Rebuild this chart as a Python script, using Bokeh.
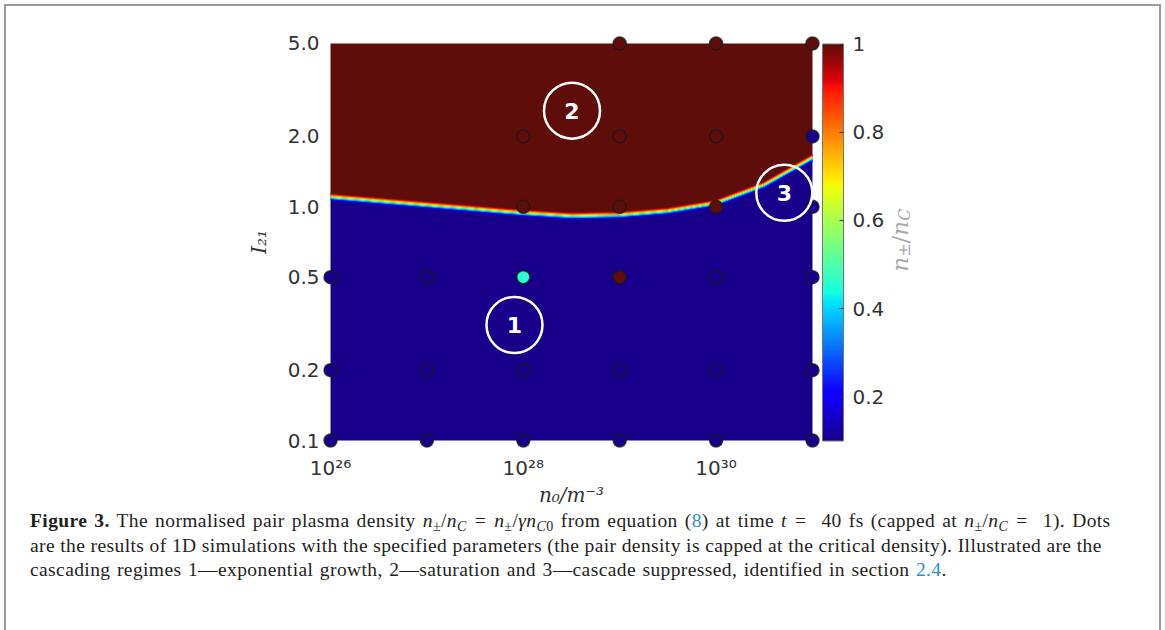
import numpy as np
from bokeh.plotting import figure
from bokeh.models import (LinearColorMapper, ColorBar, FixedTicker, Range1d, Div,
                          ColumnDataSource)
from bokeh.layouts import column, row
from bokeh.core.properties import value
from bokeh.embed import file_html
from bokeh.resources import INLINE

# ---------------- data ----------------
x_ticks = [1e26, 1e28, 1e30]
x_tick_labels = ["10²⁶", "10²⁸", "10³⁰"]
y_ticks = [0.1, 0.2, 0.5, 1.0, 2.0, 5.0]
y_tick_labels = ["0.1", "0.2", "0.5", "1.0", "2.0", "5.0"]
cbar_ticks = [0.2, 0.4, 0.6, 0.8, 1.0]
cbar_tick_labels = ["0.2", "0.4", "0.6", "0.8", "1"]

n0_min, n0_max = 1e26, 1e31
I_min, I_max = 0.1, 5.0
ratio_min, ratio_max = 0.1, 1.0

# boundary of the capped (saturated) region
bnd_n0 = [1e26, 3.16e26, 1e27, 3.16e27, 1e28, 3.16e28, 1e29, 3.16e29, 1e30, 3.16e30, 1e31]
bnd_I = [1.104, 1.061, 1.020, 0.980, 0.942, 0.915, 0.924, 0.961, 1.040, 1.243, 1.623]

# 1D simulation results (capped n±/nC)
sim_n0 = [1e26, 1e27, 1e28, 1e29, 1e30, 1e31,
          1e26, 1e27, 1e28, 1e29, 1e30, 1e31,
          1e26, 1e27, 1e28, 1e29, 1e30, 1e31,
          1e28, 1e29, 1e30, 1e31,
          1e28, 1e29, 1e30, 1e31,
          1e29, 1e30, 1e31]
sim_I = [0.1, 0.1, 0.1, 0.1, 0.1, 0.1,
         0.2, 0.2, 0.2, 0.2, 0.2, 0.2,
         0.5, 0.5, 0.5, 0.5, 0.5, 0.5,
         1.0, 1.0, 1.0, 1.0,
         2.0, 2.0, 2.0, 2.0,
         5.0, 5.0, 5.0]
sim_ratio = [0.1, 0.1, 0.1, 0.1, 0.1, 0.1,
             0.1, 0.1, 0.1, 0.1, 0.1, 0.1,
             0.1, 0.1, 0.46, 1.0, 0.1, 0.1,
             1.0, 1.0, 1.0, 0.1,
             1.0, 1.0, 1.0, 0.1,
             1.0, 1.0, 1.0]

regime_labels = ["1", "2", "3"]
regime_n0 = [8.1e27, 3.2e28, 5.1e30]
regime_I = [0.312, 2.58, 1.148]

# ---------------- colours (jet-like) ----------------
def jet_like(t):
    r = np.interp(t, [0, 0.35, 0.66, 0.89, 1.0], [0.095, 0.0, 1.0, 1.0, 0.37])
    g = np.interp(t, [0, 0.125, 0.375, 0.64, 0.91, 1.0], [0.0, 0.0, 1.0, 1.0, 0.0, 0.05])
    b = np.interp(t, [0, 0.11, 0.34, 0.65, 1.0], [0.54, 1.0, 1.0, 0.0, 0.04])
    return "#%02x%02x%02x" % (int(round(r * 255)), int(round(g * 255)), int(round(b * 255)))

palette = [jet_like(t) for t in np.linspace(0, 1, 256)]
mapper = LinearColorMapper(palette=palette, low=ratio_min, high=ratio_max)

def col_of(v):
    t = (v - ratio_min) / (ratio_max - ratio_min)
    return jet_like(min(max(t, 0), 1))

BLUE = col_of(ratio_min)
RED = col_of(ratio_max)

# ---------------- layout numbers ----------------
PX_DEC_X = 96.25
PX_DEC_Y = 233.7
pad_x = 10 ** (8 / PX_DEC_X)
pad_y = 10 ** (8 / PX_DEC_Y)
BL, BT, BB = 316, 29, 70
FW, FH = 498, 413
ORIG_X, ORIG_Y = 6, 6          # page position of the content box
MAIN_W = BL + FW
CONTENT_W = 1153
TW = CONTENT_W - MAIN_W
DIV_H = 104

p = figure(x_axis_type="log", y_axis_type="log",
           x_range=Range1d(n0_min / pad_x, n0_max * pad_x),
           y_range=Range1d(I_min / pad_y, I_max * pad_y),
           frame_width=FW, frame_height=FH,
           min_border_left=BL, min_border_top=BT, min_border_bottom=BB, min_border_right=0,
           output_backend="svg", toolbar_location=None)
p.outline_line_color = None
p.grid.visible = False
p.background_fill_color = "white"
p.border_fill_color = "white"

n = len(bnd_n0)
p.varea(x=bnd_n0, y1=[I_min] * n, y2=bnd_I, fill_color=BLUE)
p.varea(x=bnd_n0, y1=bnd_I, y2=[I_max] * n, fill_color=RED)

# thin colour transition along the boundary
band = [(3, 0.97), (2, 0.88), (1, 0.76), (0, 0.62), (-1, 0.5), (-2, 0.36), (-3, 0.22)]
for k, v in band:
    fac = 10 ** (k / PX_DEC_Y)
    p.line(bnd_n0, [y * fac for y in bnd_I], line_color=col_of(v), line_width=1.3)

src = ColumnDataSource(dict(x=sim_n0, y=sim_I, v=sim_ratio))
p.scatter("x", "y", source=src, size=13, fill_color={"field": "v", "transform": mapper},
          line_color="#1a1a1a", line_alpha=0.75, line_width=1.5)

p.scatter(regime_n0, regime_I, size=56, fill_alpha=0, line_color="white", line_width=2.5)
p.text(regime_n0, regime_I, text=regime_labels, text_color="white",
       text_font=value("DejaVu Sans"), text_font_style="bold", text_font_size="22px",
       text_align="center", text_baseline="middle")

# axes
for ax in (p.xaxis[0], p.yaxis[0]):
    ax.axis_line_color = None
    ax.major_tick_line_color = None
    ax.minor_tick_line_color = None
    ax.major_label_text_font = "DejaVu Sans"
    ax.major_label_text_font_size = "20px"
    ax.major_label_text_color = "#333333"
    ax.axis_label_text_font = "DejaVu Serif"
    ax.axis_label_text_font_style = "italic"
    ax.axis_label_text_font_size = "20px"
    ax.axis_label_text_color = "#333333"

p.xaxis.ticker = FixedTicker(ticks=x_ticks)
p.xaxis.major_label_overrides = dict(zip(x_ticks, x_tick_labels))
p.xaxis.major_label_standoff = 1
p.xaxis.axis_label = "n₀/m⁻³"
p.xaxis.axis_label_standoff = 0

p.yaxis.ticker = FixedTicker(ticks=y_ticks)
p.yaxis.major_label_overrides = dict(zip(y_ticks, y_tick_labels))
p.yaxis.major_label_standoff = -3
p.yaxis.axis_label = "I₂₁"
p.yaxis.axis_label_standoff = 14

# ---- companion figure holding the colour bar and its title ----
t = figure(frame_width=TW, frame_height=FH, x_range=Range1d(0, TW), y_range=Range1d(0, FH),
           title=None, x_axis_location=None, y_axis_location=None,
           min_border_left=0, min_border_right=0, min_border_top=BT, min_border_bottom=BB,
           output_backend="svg", toolbar_location=None)
t.grid.visible = False
t.outline_line_color = None
t.border_fill_color = "white"
t.background_fill_color = "white"

cb = ColorBar(color_mapper=mapper, ticker=FixedTicker(ticks=cbar_ticks),
              major_label_overrides=dict(zip(cbar_ticks, cbar_tick_labels)),
              width=21, height=397, padding=2, margin=0, label_standoff=9,
              location="center_left",
              major_tick_in=4, major_tick_out=0, major_tick_line_color="#333333",
              minor_tick_line_color=None, bar_line_color="#777777", bar_line_width=1,
              major_label_text_font="DejaVu Sans", major_label_text_font_size="20px",
              major_label_text_color="#333333", border_line_color=None,
              background_fill_color=None)
t.add_layout(cb)

frame_left = ORIG_X + MAIN_W
frame_top = ORIG_Y + BT
title_cx, title_cy = 901, 240
pieces = [("n", 23, "italic", 0, 14.8), ("±", 16, "normal", 5, 13.4), ("/", 23, "normal", 0, 7.8),
          ("n", 23, "italic", 0, 14.8), ("C", 16, "italic", 5, 11.5)]
total_len = sum(pc[4] for pc in pieces)
y_cur = (frame_top + FH - title_cy) - total_len / 2
base_x = title_cx - 2 - frame_left
for txt, fs, sty, dx, adv in pieces:
    t.text([base_x + dx], [y_cur], text=[txt], angle=np.pi / 2, text_align="left",
           text_baseline="alphabetic", text_font=value("DejaVu Serif"), text_font_style=sty,
           text_font_size=f"{fs}px", text_color="#a8a8a8")
    y_cur += adv

sub = 'style="font-size:0.72em;line-height:0;vertical-align:-0.28em"'
blue = 'style="color:#2a8fca"'
eq = '<span style="margin:0 8px">=</span>'
nC = f'<i>n</i><sub {sub}><i>C</i></sub>'
npm = f'<i>n</i><sub {sub}>±</sub>'
caption = (
    '<div style="font-family:\'Liberation Serif\',serif;font-size:19.5px;line-height:24.5px;'
    'letter-spacing:0.4px;color:#231f20;margin-top:-14px;padding:0 0 0 19px;white-space:nowrap">'
    '<span style="word-spacing:1.8px">'
    f'<b>Figure 3.</b> The normalised pair plasma density {npm}/{nC}{eq}{npm}/<i>γn</i><sub {sub}><i>C</i>0</sub> '
    f'from equation (<span {blue}>8</span>) at time <i>t</i>{eq} 40 fs (capped at {npm}/{nC}{eq} 1). Dots</span><br>'
    'are the results of 1D simulations with the specified parameters (the pair density is capped at the critical density). Illustrated are the<br>'
    '<span style="word-spacing:1.2px">'
    f'cascading regimes 1—exponential growth, 2—saturation and 3—cascade suppressed, identified in section <span {blue}>2.4</span>.</span>'
    '</div>'
)
div = Div(text=caption, width=CONTENT_W, height=DIV_H)

layout = column(row(p, t, spacing=0), div, spacing=0, width=CONTENT_W, sizing_mode="fixed",
                styles={"border-top": "2px solid #9a9a9a", "border-left": "2px solid #9a9a9a",
                        "border-right": "2px solid #9a9a9a", "background": "white",
                        "margin-left": "4px", "margin-top": "4px", "box-sizing": "content-box",
                        "width": f"{CONTENT_W}px", "overflow": "hidden"})

open("out.html", "w").write(file_html(layout, INLINE))
